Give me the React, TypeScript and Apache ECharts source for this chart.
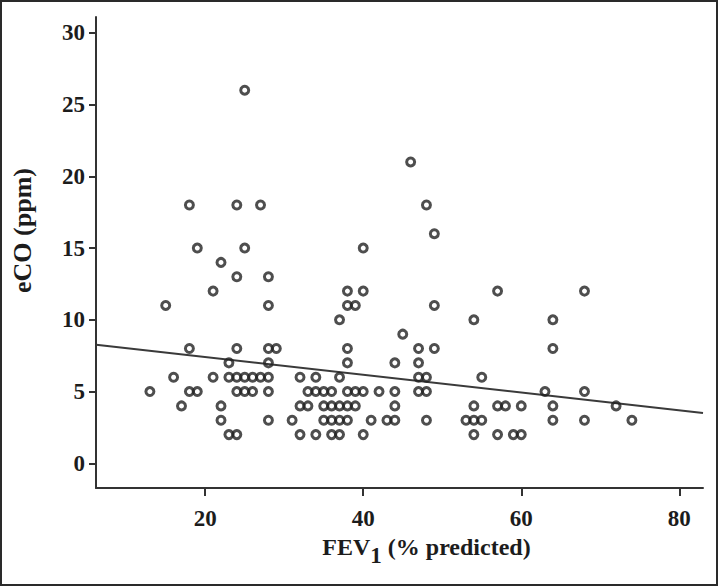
import React, { useEffect, useRef } from "react";
import * as echarts from "echarts";

// FEV1 (% predicted) for each patient
const fev1: number[] = [
  25,
  46,
  18, 24, 27, 48,
  49,
  19, 25, 40,
  22,
  24, 28,
  21, 38, 40, 57, 68,
  15, 28, 38, 39, 49,
  37, 54, 64,
  45,
  18, 24, 28, 29, 38, 47, 49, 64,
  23, 28, 38, 44, 47,
  16, 21, 23, 24, 25, 26, 27, 28, 32, 34, 37, 47, 48, 55,
  13, 18, 19, 24, 25, 26, 28, 33, 34, 35, 36, 38, 39, 40, 42, 44, 47, 48, 63, 68,
  17, 22, 32, 33, 35, 36, 37, 38, 39, 44, 54, 57, 58, 60, 64, 72,
  22, 28, 31, 35, 36, 37, 38, 41, 43, 44, 48, 53, 54, 55, 64, 68, 74,
  23, 24, 32, 34, 36, 37, 40, 54, 57, 59, 60,
];

// eCO (ppm) for each patient (same order)
const eco: number[] = [
  26,
  21,
  18, 18, 18, 18,
  16,
  15, 15, 15,
  14,
  13, 13,
  12, 12, 12, 12, 12,
  11, 11, 11, 11, 11,
  10, 10, 10,
  9,
  8, 8, 8, 8, 8, 8, 8, 8,
  7, 7, 7, 7, 7,
  6, 6, 6, 6, 6, 6, 6, 6, 6, 6, 6, 6, 6, 6,
  5, 5, 5, 5, 5, 5, 5, 5, 5, 5, 5, 5, 5, 5, 5, 5, 5, 5, 5, 5,
  4, 4, 4, 4, 4, 4, 4, 4, 4, 4, 4, 4, 4, 4, 4, 4,
  3, 3, 3, 3, 3, 3, 3, 3, 3, 3, 3, 3, 3, 3, 3, 3, 3,
  2, 2, 2, 2, 2, 2, 2, 2, 2, 2, 2,
];

// Regression line end points
const fitFev1: number[] = [6.2, 83];
const fitEco: number[] = [8.27, 3.5];

const xTicks: number[] = [20, 40, 60, 80];
const yTicks: number[] = [0, 5, 10, 15, 20, 25, 30];

const FONT = "'Liberation Serif', 'Times New Roman', serif";
const INK = "#1c1c1c";
const AXIS = "#333333";

export default function App() {
  const ref = useRef<HTMLDivElement>(null);

  useEffect(() => {
    document.body.style.margin = "0";
    const chart = echarts.init(ref.current as HTMLDivElement, null, { renderer: "svg" });
    const points = fev1.map((x, i) => [x, eco[i]]);
    const fit = fitFev1.map((x, i) => [x, fitEco[i]]);

    chart.setOption({
      animation: false,
      backgroundColor: "#ffffff",
      grid: { left: 96, right: 15, top: 17, bottom: 98, containLabel: false },
      graphic: [
        {
          type: "rect",
          shape: { x: 1, y: 1, width: 716, height: 584 },
          style: { fill: "none", stroke: "#2a2a2a", lineWidth: 2 },
          silent: true,
          z: 100,
        },
      ],
      xAxis: {
        type: "value",
        min: 6.18,
        max: 83.0,
        name: "{a|FEV}{s|1}{a| (% predicted)}",
        nameLocation: "middle",
        nameGap: 47,
        nameTextStyle: {
          padding: [0, 0, 0, 54],
          rich: {
            a: {
              fontFamily: FONT,
              fontWeight: "bold",
              fontSize: 24,
              color: INK,
              lineHeight: 26,
              verticalAlign: "top",
            },
            s: {
              fontFamily: FONT,
              fontWeight: "bold",
              fontSize: 23,
              color: INK,
              lineHeight: 40,
              verticalAlign: "middle",
            },
          },
        },
        axisLine: { show: true, onZero: false, lineStyle: { color: AXIS, width: 2 } },
        axisTick: {
          show: true,
          length: 8,
          customValues: xTicks,
          lineStyle: { color: AXIS, width: 2 },
        },
        axisLabel: {
          customValues: xTicks,
          margin: 19,
          fontFamily: FONT,
          fontWeight: "bold",
          fontSize: 23,
          color: INK,
        },
        splitLine: { show: false },
      },
      yAxis: {
        type: "value",
        min: -1.72,
        max: 31.1,
        name: "eCO (ppm)",
        nameLocation: "middle",
        nameRotate: 90,
        nameGap: 61,
        nameTextStyle: {
          fontFamily: FONT,
          fontWeight: "bold",
          fontSize: 26,
          color: INK,
          padding: [0, 0, 0, 44],
        },
        axisLine: { show: true, onZero: false, lineStyle: { color: AXIS, width: 2 } },
        axisTick: {
          show: true,
          length: 7,
          customValues: yTicks,
          lineStyle: { color: AXIS, width: 2 },
        },
        axisLabel: {
          customValues: yTicks,
          margin: 11,
          fontFamily: FONT,
          fontWeight: "bold",
          fontSize: 23,
          color: INK,
        },
        splitLine: { show: false },
      },
      series: [
        {
          type: "line",
          data: fit,
          symbol: "none",
          lineStyle: { color: "#3a3a3a", width: 2 },
          z: 1,
          silent: true,
        },
        {
          type: "scatter",
          data: points,
          symbol: "circle",
          symbolSize: 8,
          itemStyle: {
            color: "rgba(255,255,255,0)",
            borderColor: "#222222",
            borderWidth: 3,
          },
          z: 2,
        },
      ],
    });

    return () => chart.dispose();
  }, []);

  return <div ref={ref} style={{ width: 718, height: 586 }} />;
}
